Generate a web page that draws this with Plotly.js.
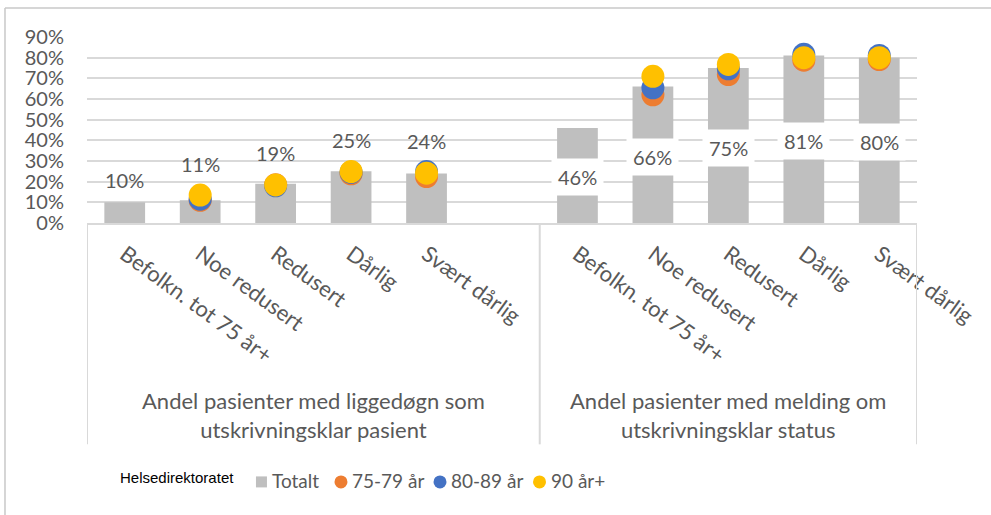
<!DOCTYPE html>
<html>
<head>
<meta charset="utf-8">
<script src="https://cdn.plot.ly/plotly-3.0.1.min.js"></script>
<style>html,body{margin:0;padding:0;background:#fff;}#chart{width:991px;height:515px;}</style>
</head>
<body>
<div id="chart"></div>
<script>
// ---- data ----
const categories = ["Befolkn. tot 75 år+", "Noe redusert", "Redusert", "Dårlig", "Svært dårlig"];
const groups = ["Andel pasienter med liggedøgn som<br>utskrivningsklar pasient",
                "Andel pasienter med melding om<br>utskrivningsklar status"];
const seriesNames = ["Totalt", "75-79 år", "80-89 år", "90 år+"];
// group 1: liggedøgn
const totaltG1 = [0.10, 0.11, 0.19, 0.25, 0.24];
const age7579G1 = [null, 0.110, 0.185, 0.238, 0.225];
const age8089G1 = [null, 0.115, 0.180, 0.245, 0.249];
const age90G1   = [null, 0.135, 0.184, 0.249, 0.241];
// group 2: melding
const totaltG2 = [0.46, 0.66, 0.75, 0.81, 0.80];
const age7579G2 = [null, 0.620, 0.718, 0.788, 0.791];
const age8089G2 = [null, 0.654, 0.746, 0.816, 0.811];
const age90G2   = [null, 0.710, 0.767, 0.800, 0.800];
const source = "Helsedirektoratet";

// ---- build positions (one blank slot closes group 1) ----
const slotsPerGroup = [categories.length + 1, categories.length];
const xG1 = categories.map((c, i) => i);
const xG2 = categories.map((c, i) => slotsPerGroup[0] + i);
const xAll = xG1.concat(xG2);
const tickText = categories.concat(categories);
const nSlots = slotsPerGroup[0] + slotsPerGroup[1];

const FONT = "Lato, 'Open Sans', sans-serif";
const GREY = "#595959";
const seriesColors = ["#BFBFBF", "#ED7D31", "#4472C4", "#FFC000"];

const traces = [
  {type: "bar", name: seriesNames[0], x: xAll, y: totaltG1.concat(totaltG2),
   width: 0.54, marker: {color: seriesColors[0]}, hoverinfo: "skip"},
  {type: "scatter", mode: "markers", name: seriesNames[1], x: xAll, y: age7579G1.concat(age7579G2),
   marker: {color: seriesColors[1], size: 23}, hoverinfo: "skip"},
  {type: "scatter", mode: "markers", name: seriesNames[2], x: xAll, y: age8089G1.concat(age8089G2),
   marker: {color: seriesColors[2], size: 23}, hoverinfo: "skip"},
  {type: "scatter", mode: "markers", name: seriesNames[3], x: xAll, y: age90G1.concat(age90G2),
   marker: {color: seriesColors[3], size: 23}, hoverinfo: "skip"}
];

const annotations = [];
// group 1 labels above bars/markers
totaltG1.forEach((v, i) => {
  const vals = [v, age7579G1[i], age8089G1[i], age90G1[i]].filter(d => d !== null);
  const top = Math.max(...vals);
  const hasMarkers = age90G1[i] !== null;
  annotations.push({x: xG1[i], y: top, xref: "x", yref: "y", text: Math.round(v * 100) + "%",
    showarrow: false, yanchor: "middle", yshift: hasMarkers ? 31 : 22,
    font: {family: FONT, size: 20, color: GREY}});
});
// group 2 labels centred in bars with white box
totaltG2.forEach((v, i) => {
  annotations.push({x: xG2[i], y: v / 2, xref: "x", yref: "y", text: Math.round(v * 100) + "%",
    showarrow: false, yanchor: "middle", yshift: -2, bgcolor: "#FFFFFF", borderpad: 6,
    font: {family: FONT, size: 20, color: GREY}});
});
// group labels
const groupCenters = [(slotsPerGroup[0] - 1) / 2, slotsPerGroup[0] + (slotsPerGroup[1] - 1) / 2];
groups.forEach((g, i) => {
  annotations.push({x: groupCenters[i], y: 0, xref: "x", yref: "paper", text: g, showarrow: false,
    yanchor: "middle", yshift: -192, align: "center",
    font: {family: FONT, size: 22, color: GREY}});
});
annotations.push({x: 0.0373, y: -1.366, xref: "paper", yref: "paper", xanchor: "left", yanchor: "middle",
  text: source, showarrow: false, font: {family: "'Liberation Sans', Arial, sans-serif", size: 15, color: "#000"}});

const sepColor = "#D9D9D9";
const shapes = [-0.5, slotsPerGroup[0] - 0.5, nSlots - 0.5].map(xv => ({
  type: "line", xref: "x", yref: "paper", x0: xv, x1: xv, y0: 0, y1: -1.19,
  line: {color: sepColor, width: 2}
}));
// outer chart border (left + top visible)
shapes.push({type: "line", xref: "paper", yref: "paper", x0: -0.0988, x1: -0.0988, y0: 1.156, y1: -1.6,
  line: {color: "#C8C8C8", width: 1.5}});
shapes.push({type: "line", xref: "paper", yref: "paper", x0: -0.0988, x1: 1.2, y0: 1.156, y1: 1.156,
  line: {color: "#C8C8C8", width: 1.5}});

// ---- custom compact legend (symbol shapes + text) ----
const legendX = [0.2102, 0.3060, 0.4253, 0.5452];  // symbol centres, paper fraction
const legendY = -1.392;
seriesNames.forEach((n, i) => {
  const isBar = i === 0;
  const r = isBar ? 5.5 : 6.5;
  shapes.push({type: isBar ? "rect" : "circle", xref: "paper", yref: "paper",
    xsizemode: "pixel", ysizemode: "pixel", xanchor: legendX[i], yanchor: legendY,
    x0: -r, x1: r, y0: -r, y1: r, fillcolor: seriesColors[i], line: {width: 0}});
  annotations.push({x: legendX[i], y: legendY, xref: "paper", yref: "paper", xanchor: "left", yanchor: "middle",
    xshift: 9, yshift: 1, text: n, showarrow: false, font: {family: FONT, size: 19, color: GREY}});
});

const layout = {
  width: 991, height: 515,
  margin: {l: 87, r: 74, t: 37, b: 292},
  paper_bgcolor: "#fff", plot_bgcolor: "#fff",
  showlegend: false,
  xaxis: {range: [-0.5, nSlots - 0.5], tickmode: "array", tickvals: xAll, ticktext: tickText,
    tickangle: 36, showgrid: false, zeroline: false, showline: true, linecolor: sepColor, linewidth: 2,
    ticks: "", ticklabelstandoff: 8,
    tickfont: {family: FONT, size: 22, color: GREY}, fixedrange: true},
  yaxis: {range: [0, 0.9], dtick: 0.1, tickformat: ".0%", showgrid: true, gridcolor: sepColor, gridwidth: 2,
    zeroline: false, showline: false, ticks: "", ticklabelstandoff: 22,
    tickfont: {family: FONT, size: 20, color: GREY}, fixedrange: true},
  annotations: annotations,
  shapes: shapes
};

Plotly.newPlot("chart", traces, layout, {displayModeBar: false, staticPlot: true});
</script>
</body>
</html>
